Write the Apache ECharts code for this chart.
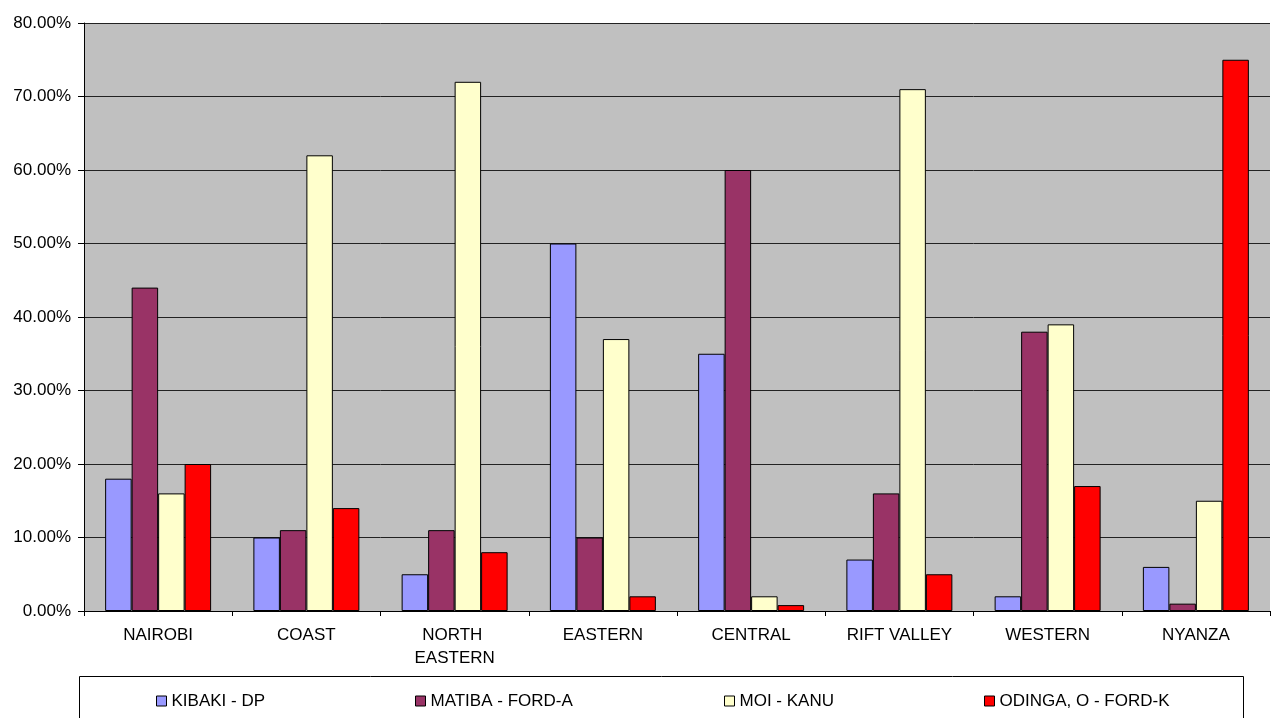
<!DOCTYPE html>
<html>
<head>
<meta charset="utf-8">
<script src="https://cdn.jsdelivr.net/npm/echarts@6/dist/echarts.min.js"></script>
<style>
html,body{margin:0;padding:0;background:#fff;}
#chart{width:1271px;height:718px;}
</style>
</head>
<body>
<div id="chart"></div>
<script>
var categories = ['NAIROBI', 'COAST', 'NORTH EASTERN', 'EASTERN', 'CENTRAL', 'RIFT VALLEY', 'WESTERN', 'NYANZA'];
var seriesNames = ['KIBAKI - DP', 'MATIBA - FORD-A', 'MOI - KANU', 'ODINGA, O - FORD-K'];
var kibaki = [18, 10, 5, 50, 35, 7, 2, 6];
var matiba = [44, 11, 11, 10, 60, 16, 38, 1];
var moi    = [16, 62, 72, 37, 2, 71, 39, 15];
var odinga = [20, 14, 8, 2, 0.8, 5, 17, 75];
var colors = ['#9999FF', '#993366', '#FFFFCC', '#FF0000'];
var legendLefts = [156, 415, 724, 984];

var values = [kibaki, matiba, moi, odinga];
var font = '"Liberation Sans", Arial, sans-serif';

var series = seriesNames.map(function (name, i) {
  return {
    name: name,
    type: 'bar',
    data: values[i],
    barGap: '0%',
    barCategoryGap: '28.5%',
    itemStyle: { color: colors[i], borderColor: '#000', borderWidth: 1 },
    emphasis: { disabled: true },
    animation: false
  };
});

var legends = seriesNames.map(function (name, i) {
  return {
    data: [name],
    left: legendLefts[i],
    top: 691,
    padding: 0,
    itemWidth: 10,
    itemHeight: 10,
    icon: 'rect',
    itemStyle: { borderColor: '#000', borderWidth: 1 },
    textStyle: { fontFamily: font, fontSize: 17, color: '#000', lineHeight: 20 },
    selectedMode: false
  };
});

var chart = echarts.init(document.getElementById('chart'), null, { renderer: 'canvas' });
chart.setOption({
  backgroundColor: '#fff',
  animation: false,
  color: colors,
  graphic: [{
    type: 'rect',
    shape: { x: 79.5, y: 676.5, width: 1164, height: 60 },
    style: { fill: '#fff', stroke: '#000', lineWidth: 1 },
    z: -1
  }],
  legend: legends,
  grid: {
    left: 84, right: 1, top: 23, bottom: 107,
    show: true,
    backgroundColor: '#C0C0C0',
    borderWidth: 0
  },
  xAxis: {
    type: 'category',
    data: categories,
    axisLine: { lineStyle: { color: '#000', width: 1 } },
    axisTick: { show: true, length: 5, lineStyle: { color: '#000' }, alignWithLabel: false },
    axisLabel: {
      fontFamily: font, fontSize: 17, color: '#000', margin: 13,
      lineHeight: 23, width: 120, overflow: 'break', interval: 0
    },
    splitLine: { show: false }
  },
  yAxis: {
    type: 'value',
    min: 0, max: 80, interval: 10,
    axisLine: { show: true, lineStyle: { color: '#000', width: 1 } },
    axisTick: { show: true, length: 6, lineStyle: { color: '#000' } },
    axisLabel: {
      fontFamily: font, fontSize: 17, color: '#000', margin: 13,
      formatter: function (v) { return v.toFixed(2) + '%'; }
    },
    splitLine: { show: true, lineStyle: { color: '#222', width: 1 } }
  },
  series: series
});
</script>
</body>
</html>
